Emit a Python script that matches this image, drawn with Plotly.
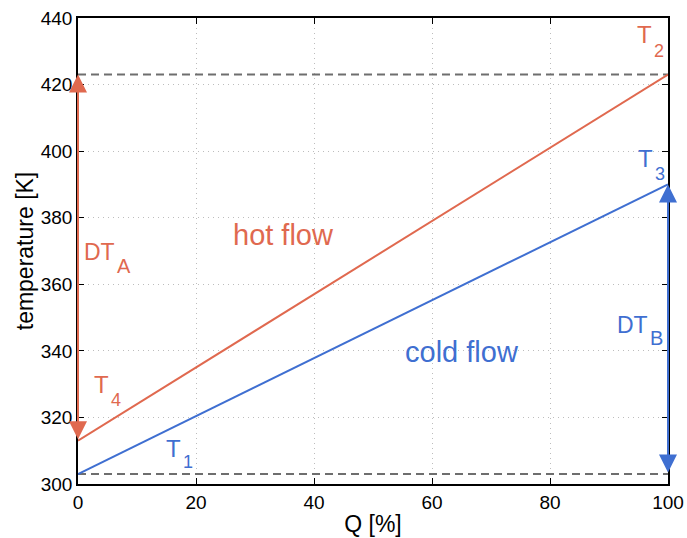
import plotly.graph_objects as go

# Data
q = [0, 100]
hot = [313, 423]
cold = [303, 390]
t_max = 423
t_min = 303
x_ticks = [0, 20, 40, 60, 80, 100]
y_ticks = [300, 320, 340, 360, 380, 400, 420, 440]

RED = "#E0694F"
BLUE = "#3F6FD1"
FONT = "Liberation Sans, Arial, Helvetica, sans-serif"

fig = go.Figure()

# dashed reference lines
for yv in (t_max, t_min):
    fig.add_trace(go.Scatter(x=q, y=[yv, yv], mode="lines",
                             line=dict(color="#6e6e6e", width=2, dash="8px,5px"),
                             hoverinfo="skip", showlegend=False))

fig.add_trace(go.Scatter(x=q, y=hot, mode="lines", line=dict(color=RED, width=2),
                         showlegend=False))
fig.add_trace(go.Scatter(x=q, y=cold, mode="lines", line=dict(color=BLUE, width=2),
                         showlegend=False))

# double-headed arrows
fig.add_annotation(x=q[0], y=hot[1], ax=q[0], ay=hot[0], axref="x", ayref="y",
                   xref="x", yref="y", text="", showarrow=True, arrowside="end+start",
                   arrowhead=2, arrowsize=1.8, arrowwidth=2, arrowcolor=RED, standoff=0,
                   startstandoff=0)
fig.add_annotation(x=q[1], y=cold[1], ax=q[1], ay=cold[0], axref="x", ayref="y",
                   xref="x", yref="y", text="", showarrow=True, arrowside="end+start",
                   arrowhead=2, arrowsize=1.8, arrowwidth=2, arrowcolor=BLUE, standoff=0,
                   startstandoff=0)

# plain text labels (text, x, y, colour)
flow_labels = [
    ("hot flow", 34.9, 374.9, RED),
    ("cold flow", 65.0, 339.7, BLUE),
]
for txt, xv, yv, col in flow_labels:
    fig.add_annotation(x=xv, y=yv, xref="x", yref="y", text=txt, showarrow=False,
                       xanchor="center", yanchor="middle",
                       font=dict(family=FONT, size=29, color=col))

# subscripted labels (main, sub, x of join, y main, y sub, colour, main size, sub size)
sub_labels = [
    ("DT", "A", 6.4, 369.7, 365.5, RED, 23, 20),
    ("DT", "B", 96.8, 347.7, 343.9, BLUE, 23, 20),
    ("T", "4", 5.35, 329.8, 325.3, RED, 24, 18),
    ("T", "1", 17.6, 310.7, 306.5, BLUE, 24, 18),
    ("T", "2", 97.5, 435.1, 430.2, RED, 24, 18),
    ("T", "3", 97.6, 397.9, 393.1, BLUE, 24, 18),
]
for main, sub, xv, ym, ys, col, fm, fs in sub_labels:
    fig.add_annotation(x=xv, y=ym, xref="x", yref="y", text=main, showarrow=False,
                       xanchor="right", yanchor="middle", borderpad=0,
                       font=dict(family=FONT, size=fm, color=col))
    fig.add_annotation(x=xv, y=ys, xref="x", yref="y", text=sub, showarrow=False,
                       xanchor="left", yanchor="middle", borderpad=0,
                       font=dict(family=FONT, size=fs, color=col))

axis_common = dict(showline=True, linecolor="black", linewidth=1.5, mirror="ticks",
                   ticks="inside", ticklen=6, tickcolor="black", tickwidth=1.2,
                   showgrid=True, gridcolor="#bdbdbd", griddash="1px,4px", gridwidth=1,
                   zeroline=False, automargin=False,
                   tickfont=dict(family=FONT, size=19, color="black"),
                   title_font=dict(family=FONT, size=23, color="black"))

fig.update_xaxes(range=[0, 100], tickvals=x_ticks, title_text="Q [%]",
                 title_standoff=4, **axis_common)
fig.update_yaxes(range=[300, 440], tickvals=y_ticks, title_text="temperature [K]",
                 title_standoff=1, **axis_common)

fig.update_layout(width=687, height=538, plot_bgcolor="white", paper_bgcolor="white",
                  margin=dict(l=78, r=19, t=18, b=54), showlegend=False)

fig.write_html("out.html")
